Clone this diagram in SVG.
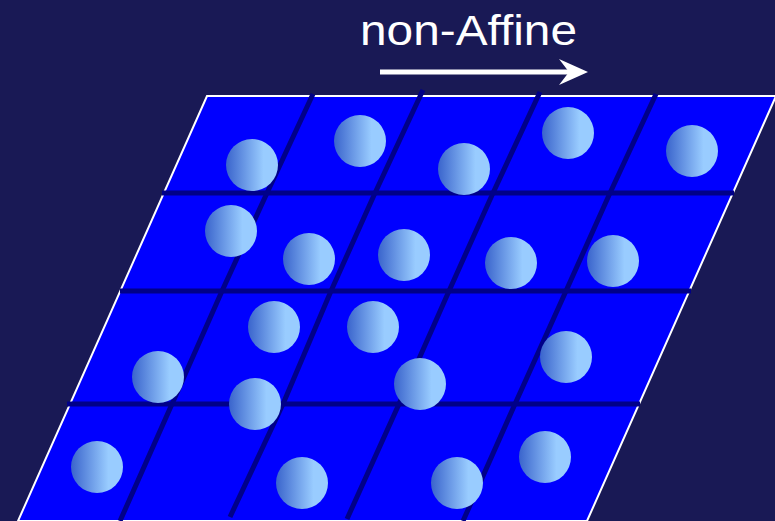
<svg xmlns="http://www.w3.org/2000/svg" width="775" height="521" viewBox="0 0 775 521">
<defs>
<linearGradient id="ball" x1="0" y1="0" x2="1" y2="0">
<stop offset="0" stop-color="#3a64cc"/>
<stop offset="0.72" stop-color="#99ccff"/>
<stop offset="1" stop-color="#99ccff"/>
</linearGradient>
</defs>
<style>
.grid{fill:none;stroke:#000088;stroke-width:5;stroke-linejoin:round}
.ball{fill:url(#ball)}
.label{font-family:"Liberation Sans",Arial,sans-serif;font-size:42px;fill:#ffffff}
</style>
<rect x="0" y="0" width="775" height="521" fill="#191955"/>
<g id="plate">
<polygon points="207,96 776,96 587,521 18,521" fill="#0000ff" stroke="#ffffff" stroke-width="2"/>
</g>
<g id="connectors">
<g id="grid">
<line class="grid" x1="162" y1="193" x2="734" y2="193"/>
<line class="grid" x1="120" y1="291" x2="691" y2="291"/>
<line class="grid" x1="67" y1="404" x2="640" y2="404"/>
<polyline class="grid" points="313,94 267,193 222,291 172,404 120,521"/>
<polyline class="grid" points="423,90 375,193 331,291 283,404 230,517"/>
<polyline class="grid" points="540,92 493,193 449,291 399,404 347,519"/>
<polyline class="grid" points="656,94 610,193 566,291 515,404 463,521"/>
</g>
<g id="arrow">
<line x1="380" y1="72" x2="572" y2="72" stroke="#ffffff" stroke-width="5"/>
<polygon points="588,72 559,59 569,72 559,85" fill="#ffffff"/>
</g>
</g>
<g id="b1"><circle class="ball" cx="252" cy="165" r="26"/></g>
<g id="b2"><circle class="ball" cx="360" cy="141" r="26"/></g>
<g id="b3"><circle class="ball" cx="464" cy="169" r="26"/></g>
<g id="b4"><circle class="ball" cx="568" cy="133" r="26"/></g>
<g id="b5"><circle class="ball" cx="692" cy="151" r="26"/></g>
<g id="b6"><circle class="ball" cx="231" cy="231" r="26"/></g>
<g id="b7"><circle class="ball" cx="309" cy="259" r="26"/></g>
<g id="b8"><circle class="ball" cx="404" cy="255" r="26"/></g>
<g id="b9"><circle class="ball" cx="511" cy="263" r="26"/></g>
<g id="b10"><circle class="ball" cx="613" cy="261" r="26"/></g>
<g id="b11"><circle class="ball" cx="274" cy="327" r="26"/></g>
<g id="b12"><circle class="ball" cx="373" cy="327" r="26"/></g>
<g id="b13"><circle class="ball" cx="158" cy="377" r="26"/></g>
<g id="b14"><circle class="ball" cx="566" cy="357" r="26"/></g>
<g id="b15"><circle class="ball" cx="420" cy="384" r="26"/></g>
<g id="b16"><circle class="ball" cx="255" cy="404" r="26"/></g>
<g id="b17"><circle class="ball" cx="97" cy="467" r="26"/></g>
<g id="b18"><circle class="ball" cx="302" cy="483" r="26"/></g>
<g id="b19"><circle class="ball" cx="457" cy="483" r="26"/></g>
<g id="b20"><circle class="ball" cx="545" cy="457" r="26"/></g>
<g id="title"><text class="label" x="360" y="45" textLength="217" lengthAdjust="spacingAndGlyphs">non-Affine</text></g>
</svg>
